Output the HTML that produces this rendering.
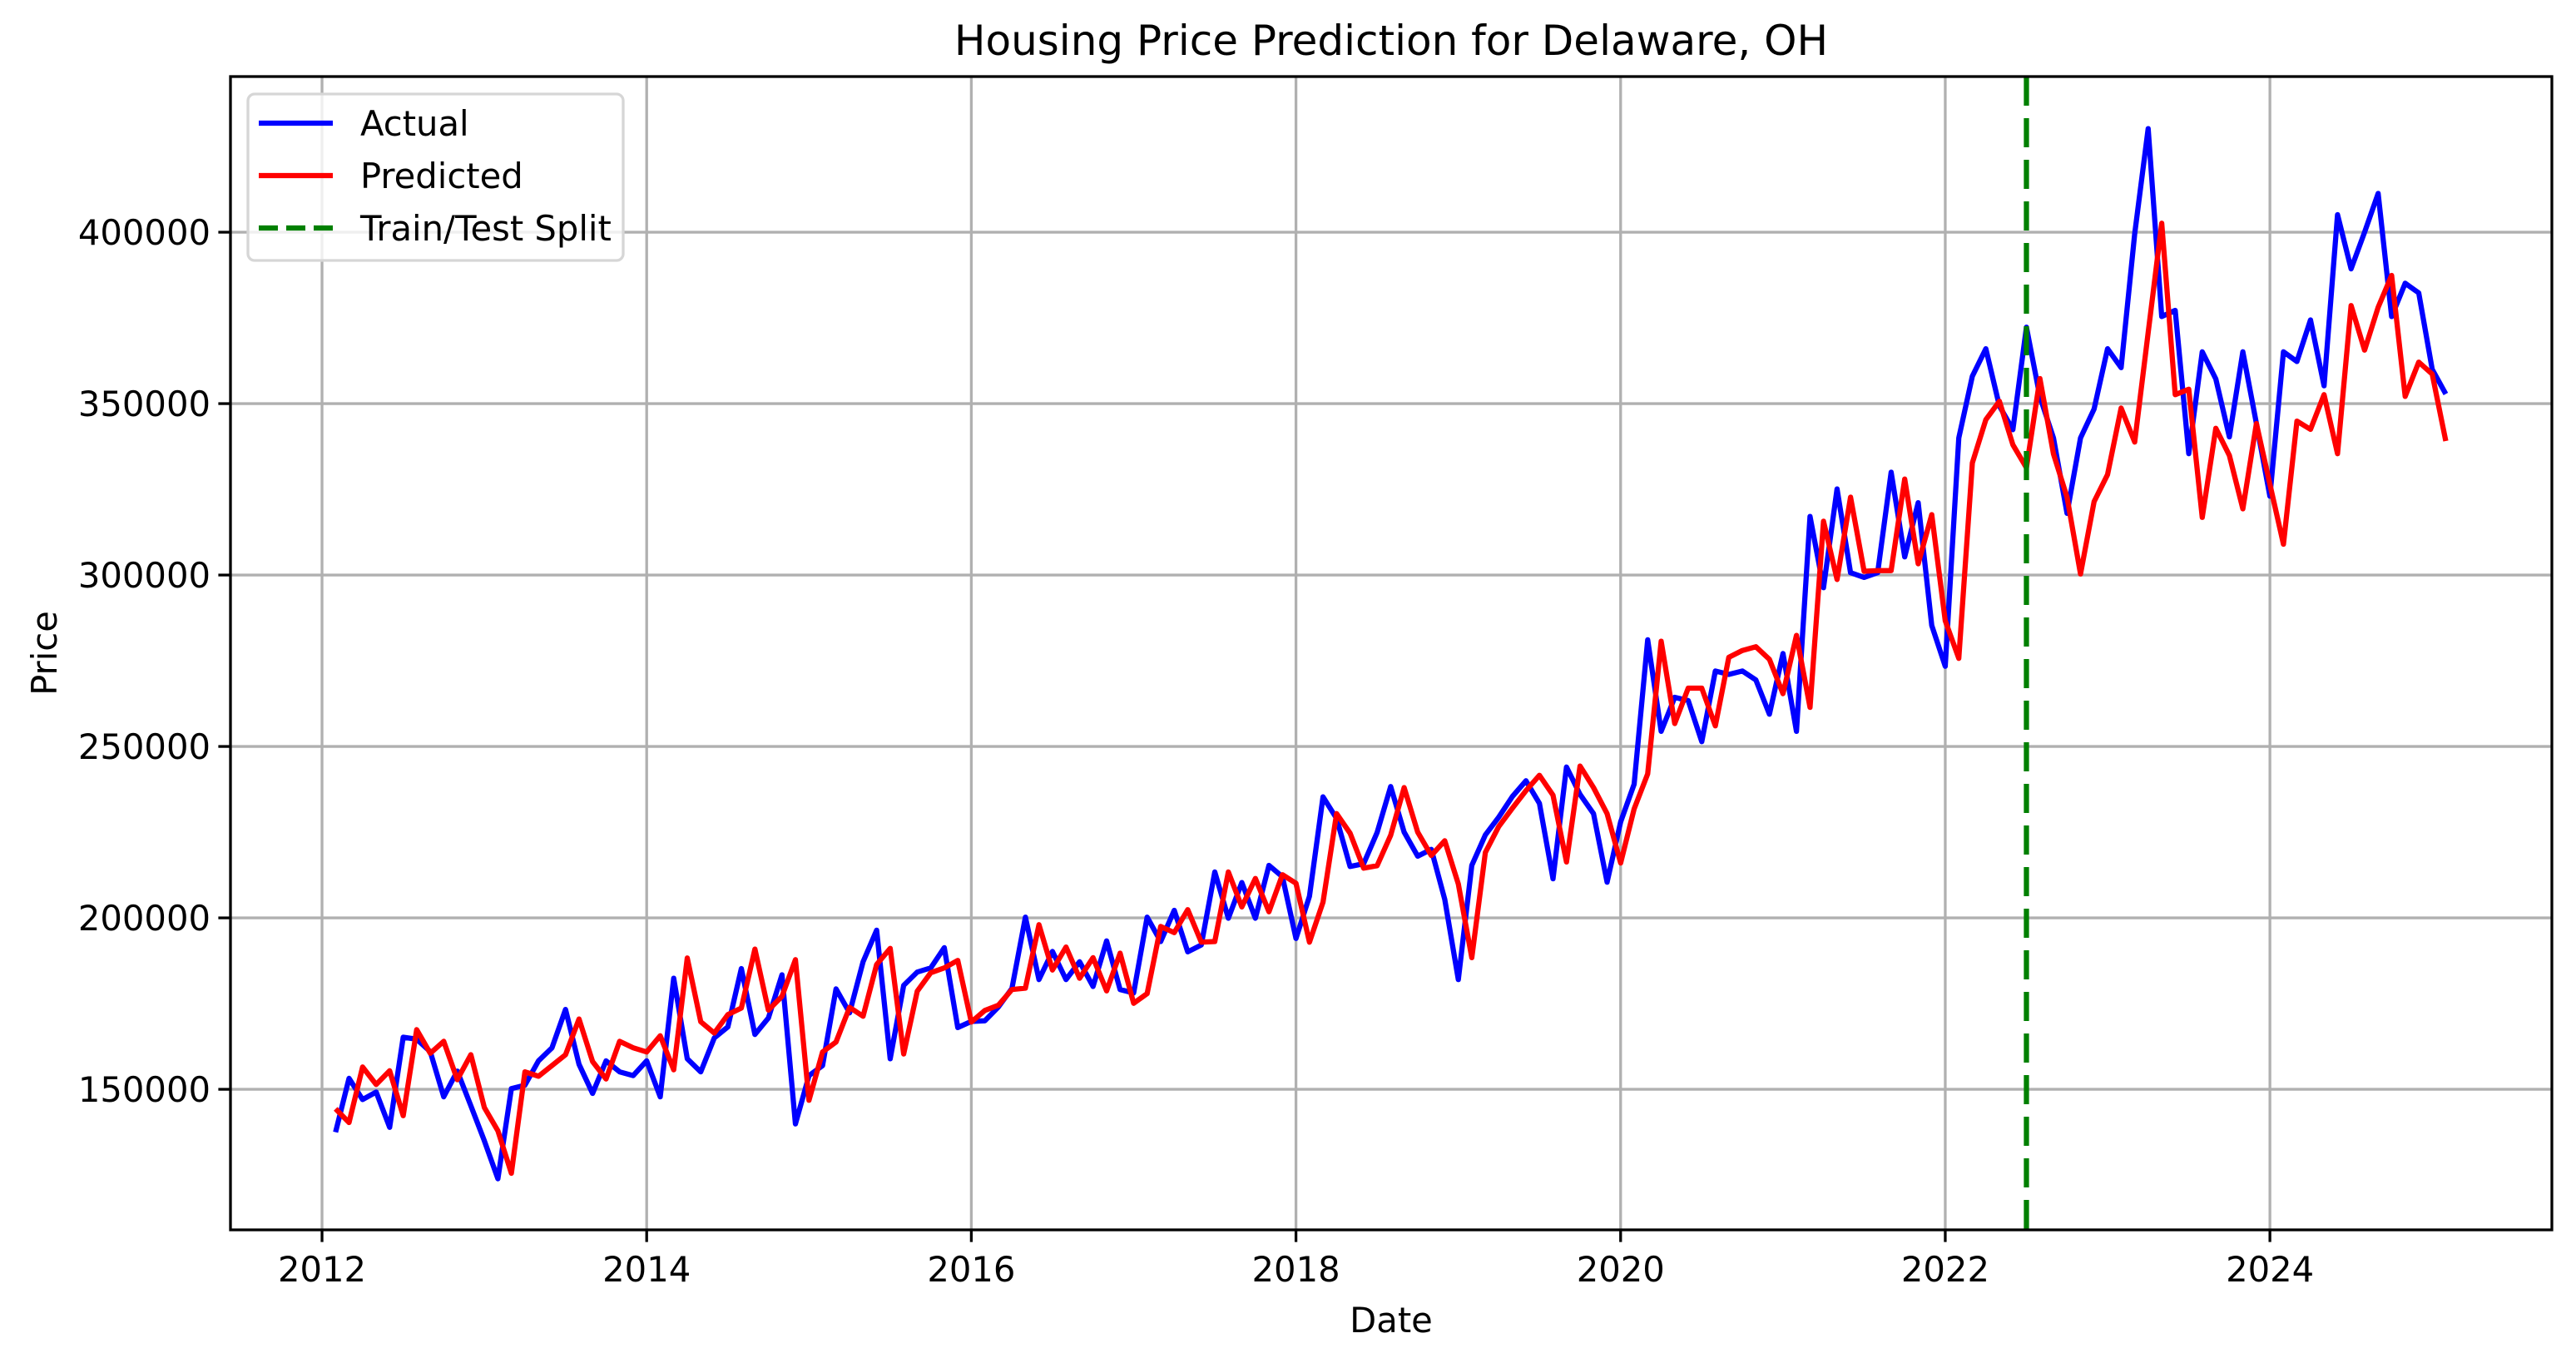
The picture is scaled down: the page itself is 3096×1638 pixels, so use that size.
<!DOCTYPE html>
<html><head><meta charset="utf-8"><style>
html,body{margin:0;padding:0;background:#fff;}
svg{display:block;font-family:"DejaVu Sans","Liberation Sans",sans-serif;}
</style></head><body>
<svg id="chart" width="3096" height="1638" viewBox="0 0 3096 1638" xmlns="http://www.w3.org/2000/svg">
<rect x="0" y="0" width="3096" height="1638" fill="#fff"/>
<g id="grid"></g>
<g id="series"></g>
<g id="axes"></g>
<text x="1672" y="66" font-size="50" text-anchor="middle">Housing Price Prediction for Delaware, OH</text>
<text x="1672" y="1601" font-size="41.7" text-anchor="middle">Date</text>
<text transform="translate(68,785) rotate(-90)" font-size="41.7" text-anchor="middle">Price</text>
<g>
<rect x="298" y="113" width="451" height="200" rx="8" fill="#fff" fill-opacity="0.8" stroke="#d6d6d6" stroke-width="3.3"/>
<line x1="311" y1="148" x2="400" y2="148" stroke="#0000ff" stroke-width="6.25"/>
<text x="433" y="163" font-size="41.7">Actual</text>
<line x1="311" y1="211" x2="400" y2="211" stroke="#ff0000" stroke-width="6.25"/>
<text x="433" y="226" font-size="41.7">Predicted</text>
<line x1="311" y1="274" x2="400" y2="274" stroke="#008000" stroke-width="6.25" stroke-dasharray="23,10"/>
<text x="433" y="289" font-size="41.7">Train/Test Split</text>
</g>
</svg>
<script>
const startYear = 2012;
const startMonth = 1; // January 2012, monthly
const actual = [137.5,153.2,147,149.2,138.9,165.2,164.6,161,147.8,155.3,145.2,135,123.9,150.2,151.2,158.3,162.1,173.3,157.3,148.8,158.3,155.1,154,158.3,147.8,182.4,158.9,155.1,165,168.2,185.2,166,170.8,183.4,139.9,154,156.9,179.3,172.3,187.2,196.4,158.9,180.3,
184.2,185.4,191.3,168,169.8,170,174,179.4,200.2,182,190.2,182,187.2,180,193.3,179.1,178.1,200.2,193.1,202.2,190.1,192.1,213.4,199.9,210.3,199.9,215.3,212,194,206.3,235.3,229,215,215.8,224.9,238.3,225,218,220,205.4,182,215.3,224.2,
229.4,235.4,240,233.4,211.4,244,236,230.4,210.4,228,239,281.1,254.4,264.3,263.4,251.4,272,271,272,269.4,259.4,277.1,254.4,317.1,296.3,325.1,300.7,299.3,300.7,330,305.3,321.1,285.3,273.4,340,358,366,349.3,342.4,372.3,352,340,318,
340,348.4,366,360.5,399.5,430.2,375.4,377.2,335.4,365.1,357.2,340.3,365.1,344.2,323,365.1,362.3,374.4,355.2,405.1,389.3,400,411.3,375.4,385.1,382.3,360,352.8];
const predicted = [144.3,140.3,156.5,151.4,155.4,142.3,167.4,160.5,164,152.8,160.1,144.7,137.9,125.5,155.1,153.8,156.9,160.1,170.5,158.1,153,164,162.1,160.9,165.6,155.7,188.3,169.7,166.4,171.8,173.7,190.9,173.1,177.1,187.8,146.8,160.9,163.8,173.9,171.3,186.4,191.1,160.3,
178.6,184,185.4,187.6,169.6,173,174.5,179.1,179.5,198,184.8,191.5,182.4,188.4,178.7,189.7,175.1,177.9,197.5,195.7,202.4,192.9,193.1,213.4,203.2,211.5,201.8,212.6,210.1,192.9,204.6,230.4,224.7,214.5,215.2,224.1,238,225,218.2,222.5,209.9,188.4,219.1,
226.7,232,237.1,241.6,235.8,216.3,244.3,238,230.4,216,231.8,242,280.7,256.7,267,267,256,276,278,279.1,275.4,265.4,282.4,261.4,315.7,298.7,322.7,301.1,301.3,301.3,328,303.3,317.6,286.7,275.7,332.7,345.3,350.7,338,331.3,357.3,335.3,322.7,
300.3,321.4,329.3,348.7,338.8,370.7,402.6,352.6,354.2,316.8,342.8,334.9,319.3,344.2,326.5,309,344.9,342.5,352.6,335.4,378.6,365.6,378.1,387.4,352.1,362.1,358.6,339.1];
const splitDate = 2022.5;
const yTicks = [150000,200000,250000,300000,350000,400000];
const yTickLabels = ["150000","200000","250000","300000","350000","400000"];
const xTicks = [2012,2014,2016,2018,2020,2022,2024];
const xTickLabels = ["2012","2014","2016","2018","2020","2022","2024"];

const NS = "http://www.w3.org/2000/svg";
const L = 277, R = 3067, T = 92, B = 1478;
const X0 = 2011.436, X1 = 2025.737, Y0 = 109000, Y1 = 445400;
function xs(v){ return L + (v - X0) / (X1 - X0) * (R - L); }
function ys(v){ return B - (v - Y0) / (Y1 - Y0) * (B - T); }
function dateAt(i){ return startYear + (startMonth - 1 + i + 1) / 12; }
function mk(tag, attrs, parent){ const e = document.createElementNS(NS, tag); for (const k in attrs) e.setAttribute(k, attrs[k]); parent.appendChild(e); return e; }
const grid = document.getElementById('grid'), axes = document.getElementById('axes'), series = document.getElementById('series');

xTicks.forEach((t, i) => {
  const x = xs(t);
  const g = mk('line', {x1:x, y1:T, x2:x, y2:B, stroke:'#b0b0b0', 'stroke-width':3.3}, grid);
  
  
  const tk = mk('line', {x1:x, y1:B, x2:x, y2:B+14.6, stroke:'#000', 'stroke-width':3.3}, axes);
  
  
  const tx = mk('text', {x:x, y:B+62, 'font-size':41.7, 'text-anchor':'middle'}, axes);
  tx.textContent = xTickLabels[i];
  
  
});
yTicks.forEach((t, i) => {
  const y = ys(t);
  const g = mk('line', {x1:L, y1:y, x2:R, y2:y, stroke:'#b0b0b0', 'stroke-width':3.3}, grid);
  
  
  const tk = mk('line', {x1:L-14.6, y1:y, x2:L, y2:y, stroke:'#000', 'stroke-width':3.3}, axes);
  
  
  const tx = mk('text', {x:L-24, y:y+15, 'font-size':41.7, 'text-anchor':'end'}, axes);
  tx.textContent = yTickLabels[i];
  
  
});
const frame = mk('rect', {x:L, y:T, width:R-L, height:B-T, fill:'none', stroke:'#000', 'stroke-width':3.3}, axes);



function pts(arr){ return arr.map((v, i) => xs(dateAt(i)).toFixed(1) + ',' + ys(v * 1000).toFixed(1)).join(' '); }
const la = mk('polyline', {points:pts(actual), fill:'none', stroke:'#0000ff', 'stroke-width':6.25, 'stroke-linejoin':'round'}, series);


const lp = mk('polyline', {points:pts(predicted), fill:'none', stroke:'#ff0000', 'stroke-width':6.25, 'stroke-linejoin':'round'}, series);


const sx = xs(splitDate);
const sl = mk('line', {x1:sx, y1:T, x2:sx, y2:B, stroke:'#008000', 'stroke-width':6.25, 'stroke-dasharray':'35,15'}, series);


</script>
</body></html>
